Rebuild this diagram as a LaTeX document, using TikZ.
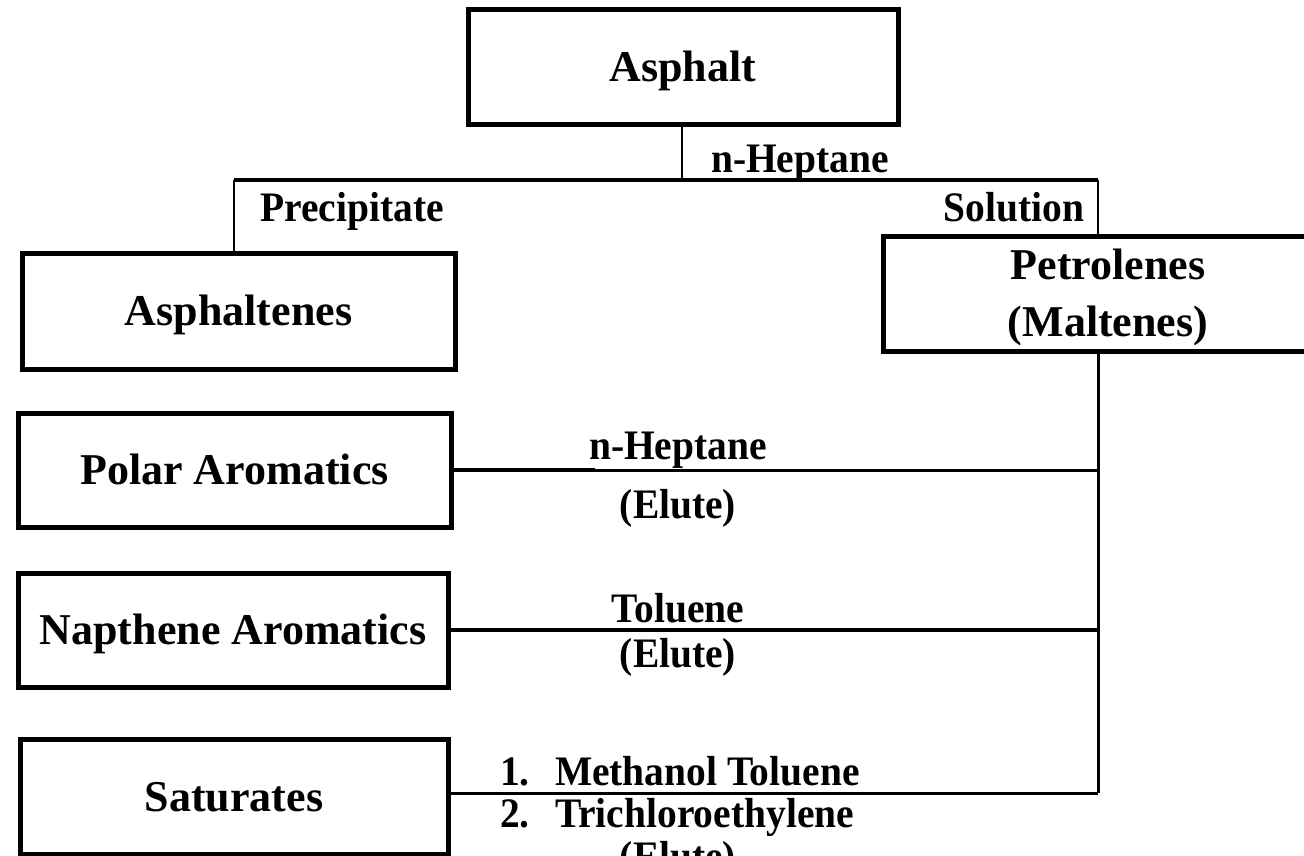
\documentclass[tikz,border=0pt]{standalone}
\usepackage{fontspec}
\setmainfont{Liberation Serif}
\newfontfamily\lblfont[FakeStretch=0.94]{Liberation Serif}
\begin{document}
\begin{tikzpicture}[x=1pt,y=-1pt,
  box/.style={draw=black,line width=5pt,fill=white,inner sep=0pt,
    font=\fontsize{44}{57}\selectfont\bfseries,align=center,
    text height=29pt,text depth=0pt},
  lbl/.style={inner sep=0pt,font=\lblfont\fontsize{42}{46}\selectfont\bfseries},
  thin/.style={line width=2.2pt},
  mid/.style={line width=3pt},
  heavy/.style={line width=4.5pt}]
\useasboundingbox (0,0) rectangle (1304,856);
\clip (0,0) rectangle (1304,856);
% fractions
\node[box,minimum width=430pt,minimum height=115pt] (asphalt) at (683,67.5) {Asphalt};
\node[box,minimum width=433pt,minimum height=116pt] (asphaltenes) at (238.5,311) {Asphaltenes};
\node[box,minimum width=450pt,minimum height=115pt,text height=0pt] (petro) at (1108,293.5) {};
\node[box,minimum width=433pt,minimum height=114pt] (polar) at (234.5,470) {Polar Aromatics};
\node[box,minimum width=430pt,minimum height=114pt] (napth) at (233,630) {Napthene Aromatics};
\node[box,minimum width=428pt,minimum height=115pt] (sat) at (234,797) {Saturates};
\node[inner sep=0pt,anchor=base,font=\fontsize{44}{57}\selectfont\bfseries] (petro1) at (1108,279) {Petrolenes};
\node[inner sep=0pt,anchor=base,font=\fontsize{44}{57}\selectfont\bfseries] (petro2) at (1108,336) {(Maltenes)};
% junction points
\coordinate (split) at (682,180);
\coordinate (lsplit) at (234,180);
\coordinate (rsplit) at (1098,180);
\coordinate (bottom) at (1098,793);
\coordinate (polarjoin) at (595,470);
% n-heptane separation
\draw[thin] (asphalt.south -| split) -- (split);
\draw[heavy] (lsplit) -- (rsplit);
\draw[thin] (lsplit) -- (asphaltenes.north -| lsplit);
\draw[thin] (rsplit) -- (petro.north -| rsplit);
% chromatographic column
\draw[mid] (petro.south -| rsplit) -- (bottom);
\draw[heavy] (polar.east) -- (polarjoin);
\draw[mid] (polarjoin) -- (polar.east -| bottom);
\draw[heavy] (napth.east) -- (napth.east -| bottom);
\draw[mid] (sat.east |- bottom) -- (bottom);
% labels
\node[lbl,anchor=base] (l1) at (800,172) {n-Heptane};
\node[lbl,anchor=base] (l2) at (352,221) {Precipitate};
\node[lbl,anchor=base] (l3) at (1014,221) {Solution};
\node[lbl,anchor=base] (l4) at (678,459) {n-Heptane};
\node[lbl,anchor=base] (l5) at (678,518) {(Elute)};
\node[lbl,anchor=base] (l6) at (678,622) {Toluene};
\node[lbl,anchor=base] (l7) at (678,667) {(Elute)};
\node[lbl,anchor=base west] (l8) at (500,785) {1.\hspace{0.6em}Methanol Toluene};
\node[lbl,anchor=base west] (l9) at (500,827) {2.\hspace{0.6em}Trichloroethylene};
\node[lbl,anchor=base] (l10) at (678,870) {(Elute)};
\end{tikzpicture}
\end{document}
